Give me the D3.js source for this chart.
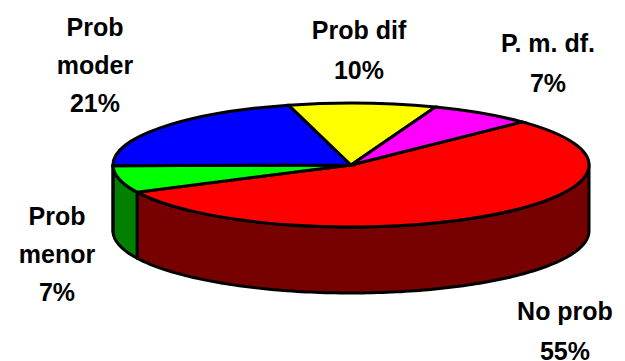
<!DOCTYPE html>
<html>
<head>
<meta charset="utf-8">
<style>
html,body{margin:0;padding:0;background:#fff;overflow:hidden}
svg{display:block}
text{font-family:"Liberation Sans",Arial,sans-serif;font-weight:700;font-size:25px;fill:#000;text-anchor:middle}
</style>
<script src="https://cdn.jsdelivr.net/npm/d3@7"></script>
</head>
<body>
<svg id="chart" width="625" height="361"></svg>
<script>
// Survey shares, clockwise from the start of the largest slice
const categories = ["No prob", "Prob menor", "Prob moder", "Prob dif", "P. m. df."];
const shares = [55, 7, 21, 10, 7];
const topColors = ["#ff0000", "#00ff00", "#0000ff", "#ffff00", "#ff00ff"];
const sideColors = ["#770000", "#007f00", "#00007f", "#7f7f00", "#7f007f"];
// Label lines and anchor positions, one entry per category
const labelLines = [["No prob", "55%"], ["Prob", "menor", "7%"], ["Prob", "moder", "21%"], ["Prob dif", "10%"], ["P. m. df.", "7%"]];
const labelX = [565, 57, 95, 359, 548];
const labelY = [320, 225, 36, 39, 52];
const labelGap = [40, 38, 38, 40, 40];

const cx = 351, cy = 165, rx = 238, ry = 62, depth = 66, strokeW = 3;
const startAngle = 46 * Math.PI / 180;

const svg = d3.select("#chart");
const pie = d3.pie().sort(null).value(d => d)
  .startAngle(startAngle).endAngle(startAngle + 2 * Math.PI);
const arcs = pie(shares);

// Maps a pie angle to the tilted rim of the disc
const rimX = a => cx + rx * Math.sin(a);
const rimY = a => cy - ry * Math.cos(a);

// Outer wall of a slice, limited to the half of the rim facing the viewer
function wallPath(a0, a1) {
  const from = Math.max(a0, Math.PI / 2), to = Math.min(a1, 3 * Math.PI / 2);
  if (from >= to) return null;
  const steps = d3.range(from, to, 0.02).concat([to]);
  const front = steps.map(a => [rimX(a), rimY(a)]);
  const back = steps.slice().reverse().map(a => [rimX(a), rimY(a) + depth]);
  return d3.line()(front.concat(back)) + "Z";
}

const walls = svg.append("g");
arcs.forEach((d, i) => {
  const p = wallPath(d.startAngle, d.endAngle);
  if (p) walls.append("path").attr("d", p).attr("fill", sideColors[i])
    .attr("stroke", "#000").attr("stroke-width", strokeW).attr("stroke-linejoin", "round");
});

// Top face: unit-radius wedges squashed into an ellipse
const unitArc = d3.arc().innerRadius(0).outerRadius(1);
svg.append("g")
  .attr("transform", `translate(${cx},${cy}) scale(${rx},${ry})`)
  .selectAll("path").data(arcs).join("path")
  .attr("d", unitArc)
  .attr("fill", (d, i) => topColors[i])
  .attr("stroke", "#000")
  .attr("stroke-width", strokeW)
  .attr("stroke-linejoin", "miter")
  .attr("vector-effect", "non-scaling-stroke");

// Multi-line category labels
const labels = svg.append("g");
categories.forEach((c, i) => {
  const t = labels.append("text");
  labelLines[i].forEach((line, j) => {
    t.append("tspan").attr("x", labelX[i]).attr("y", labelY[i] + j * labelGap[i]).text(line);
  });
});
</script>
</body>
</html>
